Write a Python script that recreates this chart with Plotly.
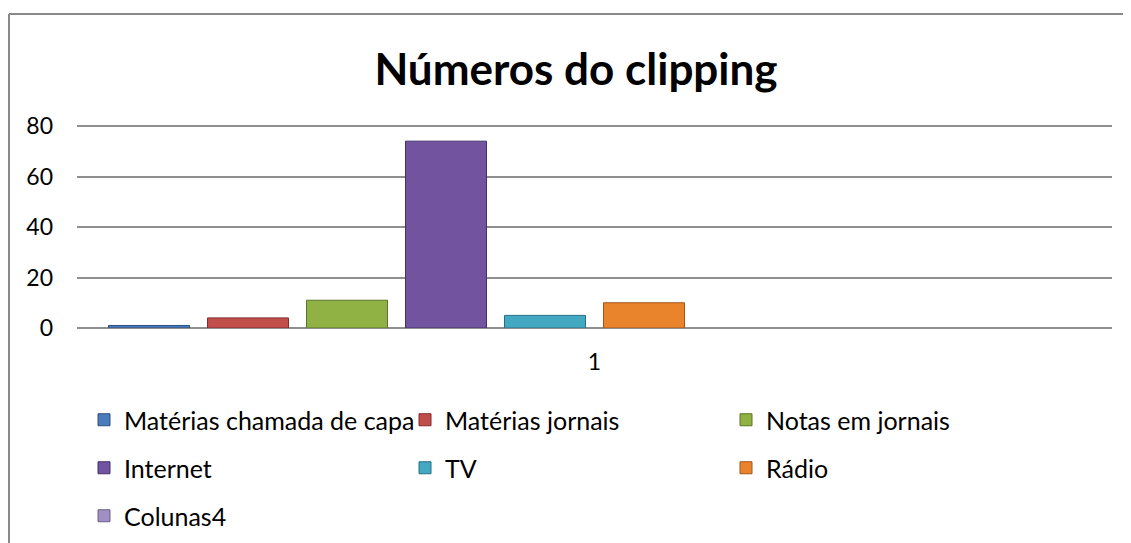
import plotly.graph_objects as go

categories = ["1"]
series_names = ["Matérias chamada de capa", "Matérias jornais", "Notas em jornais",
                "Internet", "TV", "Rádio", "Colunas4"]
series_values = [1, 4, 11, 74, 5, 10, None]
series_colors = ["#4a7bba", "#c24e4b", "#90b244", "#7153a0", "#43a8c2", "#ea842c", "#a08fc2"]
line_colors = ["#2c4f7c", "#7e2c2a", "#5b7426", "#45306a", "#276f82", "#a3551a", "#6d5f8c"]
legend_rows = ["legend", "legend", "legend", "legend2", "legend2", "legend2", "legend3"]
extra_series = 3  # empty series slots in the chart's group
y_ticks = [0, 20, 40, 60, 80]

FONT = "Lato"
OFF = 8  # page body margin

fig = go.Figure()
for name, val, col, lc, lg in zip(series_names, series_values, series_colors, line_colors, legend_rows):
    fig.add_trace(go.Bar(
        x=categories, y=[val], name=name, legend=lg,
        marker=dict(color=col, line=dict(color=lc, width=1)),
    ))
for i in range(extra_series):
    fig.add_trace(go.Bar(x=categories, y=[None], showlegend=False, name=f"empty{i}"))

W, H = 1131 - OFF, 543 - OFF
# target pixel positions in the window
plot_left, plot_right, plot_top, plot_bottom = 77, 1112, 125, 328
L = plot_left - OFF
R = W - (plot_right - OFF)
T = plot_top - OFF
B = H - (plot_bottom - OFF)
ph = H - T - B
pw = W - L - R

def py(pix):
    return (plot_bottom - pix) / ph

def px(pix):
    return (pix - plot_left) / pw

legend_common = dict(orientation="h", xanchor="left", yanchor="middle",
                     font=dict(family=FONT, size=25, color="#000"),
                     entrywidth=276, entrywidthmode="pixels",
                     bgcolor="rgba(0,0,0,0)", borderwidth=0,
                     itemclick=False, itemdoubleclick=False)

fig.update_layout(
    width=W, height=H,
    margin=dict(l=L, r=R, t=T, b=B, autoexpand=False),
    paper_bgcolor="white", plot_bgcolor="white",
    barmode="group", bargap=0.0435, bargroupgap=0.182,
    title=dict(text="Números do clipping", x=(576 - OFF) / W, xanchor="center",
               y=1 - (70 - OFF) / H, yanchor="middle",
               font=dict(family=FONT, size=44, color="#000", weight=700)),
    font=dict(family=FONT, color="#000"),
    legend=dict(**legend_common, x=px(84), y=py(420)),
    legend2=dict(**legend_common, x=px(84), y=py(468)),
    legend3=dict(**legend_common, x=px(84), y=py(516)),
    xaxis=dict(showgrid=False, showline=False, ticks="",
               tickfont=dict(family=FONT, size=23, color="#000"),
               ticklabelstandoff=18, fixedrange=True),
    yaxis=dict(range=[0, 80.4], tickvals=y_ticks, showgrid=True,
               gridcolor="#8f8f8f", gridwidth=1.6, zeroline=True,
               zerolinecolor="#8f8f8f", zerolinewidth=1.6,
               showline=False, ticks="",
               tickfont=dict(family=FONT, size=23, color="#000"),
               ticklabelstandoff=23, fixedrange=True),
    showlegend=True,
)

# chart-area frame (top and left edges visible)
fig.add_shape(type="line", xref="paper", yref="paper",
              x0=px(9), x1=px(1140), y0=py(14), y1=py(14),
              line=dict(color="#8a8a8a", width=2))
fig.add_shape(type="line", xref="paper", yref="paper",
              x0=px(9), x1=px(9), y0=py(14), y1=py(560),
              line=dict(color="#8a8a8a", width=2))

fig.write_html("out.html")
